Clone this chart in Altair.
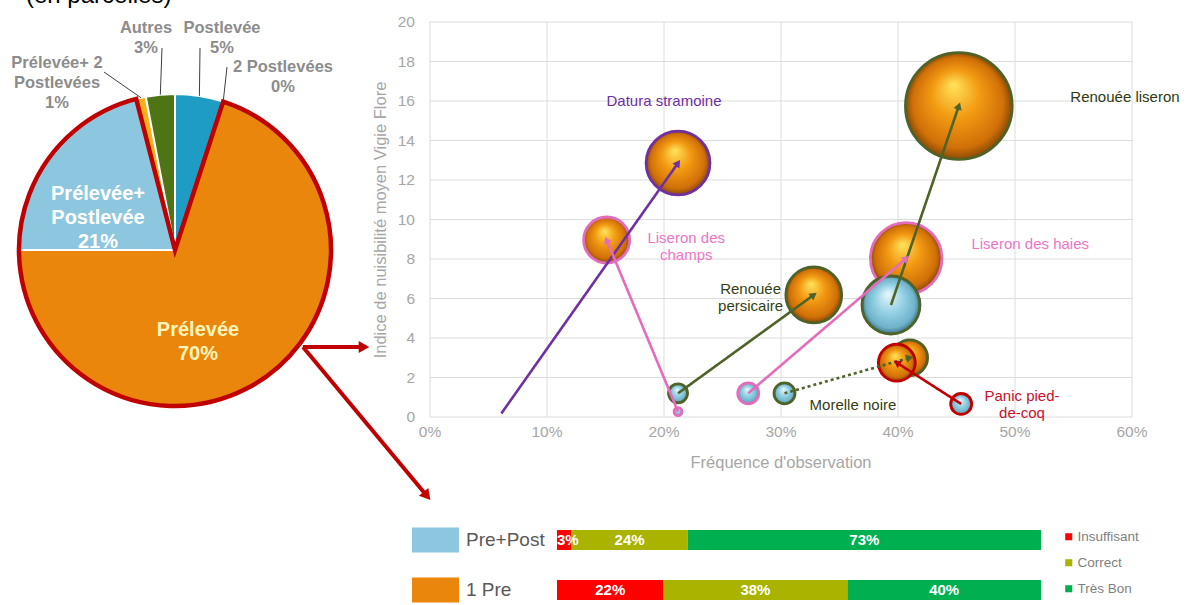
import math
import altair as alt
import pandas as pd

# ---------------- values ----------------
# Pie: share of treatment programmes (clockwise from 12 o'clock)
pie_names = ["Postlevée", "2 Postlevées", "Prélevée", "Prélevée+Postlevée",
             "Prélevée+ 2 Postlevées", "Autres"]
pie_values = [5, 0, 70, 21, 1, 3]

# Bubble chart: weeds, Pre+Post programme (start) -> 1 Pre programme (end)
species = ["Datura stramoine", "Liseron des champs", "Renouée persicaire",
           "Liseron des haies", "Renouée liseron", "Morelle noire", "Panic pied-de-coq"]
freq_prepost = [0.061, 0.212, 0.212, 0.272, 0.394, 0.303, 0.454]
nuis_prepost = [0.18, 0.27, 1.2, 1.2, 5.67, 1.2, 0.66]
size_prepost = [0.0, 0.16, 0.9, 1.1, 8.4, 1.1, 1.1]
freq_pre = [0.212, 0.151, 0.328, 0.407, 0.452, 0.410, 0.399]
nuis_pre = [12.86, 8.96, 6.18, 8.03, 15.75, 3.0, 2.75]
size_pre = [10.2, 5.3, 7.8, 12.8, 28.5, 3.2, 3.4]
freq_ticks = [0, 0.1, 0.2, 0.3, 0.4, 0.5, 0.6]
nuis_ticks = [0, 2, 4, 6, 8, 10, 12, 14, 16, 18, 20]

# Efficacy bars
groups = ["Pre+Post", "1 Pre"]
levels = ["Insuffisant", "Correct", "Très Bon"]
pct_prepost = [3, 24, 73]
pct_pre = [22, 38, 40]

# ---------------- layout & styles ----------------
W, H = 1186, 605
CX, CY, R = 175, 250, 156
FONT = "Liberation Sans"
NARROW = "Liberation Sans Narrow, Liberation Sans"
DARK_RED = "#C00000"
AXIS_GREY = "#A6A6A6"

pie_colors = ["#1F9CC4", "#1F9CC4", "#E9860B", "#8DC7DF", "#F2B21B", "#4E7416"]
pie_label_text = {
    "Postlevée": "Postlevée", "2 Postlevées": "2 Postlevées", "Autres": "Autres",
    "Prélevée+ 2 Postlevées": "Prélevée+ 2\nPostlevées",
    "Prélevée+Postlevée": "Prélevée+\nPostlevée", "Prélevée": "Prélevée",
}
pie_label_pos = {
    "Postlevée": (222, 28), "2 Postlevées": (283, 67), "Autres": (146, 28),
    "Prélevée+ 2 Postlevées": (57, 63), "Prélevée+Postlevée": (98, 194),
    "Prélevée": (198, 330),
}
outside = ["Postlevée", "2 Postlevées", "Autres", "Prélevée+ 2 Postlevées"]
leader_from = {"Postlevée": (200, 48), "Autres": (162, 48),
               "2 Postlevées": (227, 67), "Prélevée+ 2 Postlevées": (104, 72)}
red_arrows = [((303, 347), (364, 347)), ((303, 347), (427, 496))]

X0, X1, Y0, Y1 = 430, 1132, 417, 22           # bubble plot area (pixels)
PX_X = (X1 - X0) / 0.6
PX_Y = (Y0 - Y1) / 20

stroke_colors = ["#7030A0", "#E46CBC", "#4F6228", "#E46CBC", "#4F6228", "#4F6228", DARK_RED]
text_colors = ["#7030A0", "#EE74C8", "#333F14", "#EE74C8", "#2F3A12", "#333F14", "#C8102E"]
bubble_labels = {
    "Datura stramoine": ("Datura stramoine", 0.200, 16.0),
    "Liseron des champs": ("Liseron des\nchamps", 0.219, 9.06),
    "Renouée persicaire": ("Renouée\npersicaire", 0.274, 6.48),
    "Liseron des haies": ("Liseron des haies", 0.513, 8.76),
    "Renouée liseron": ("Renouée liseron", 0.594, 16.2),
    "Morelle noire": ("Morelle noire", 0.3615, 0.61),
    "Panic pied-de-coq": ("Panic pied-\nde-coq", 0.506, 1.05),
}

level_colors = ["#FF0000", "#A9B300", "#00B050"]
group_colors = ["#8DC7DF", "#E9860B"]

orange_ball = {"gradient": "radial", "x1": 0.45, "y1": 0.3, "r1": 0.0,
               "x2": 0.5, "y2": 0.5, "r2": 0.5,
               "stops": [{"offset": 0.0, "color": "#FFE45C"},
                         {"offset": 0.45, "color": "#F29A12"},
                         {"offset": 0.85, "color": "#D07008"},
                         {"offset": 1.0, "color": "#8A4A05"}]}
blue_ball = {"gradient": "radial", "x1": 0.45, "y1": 0.3, "r1": 0.0,
             "x2": 0.5, "y2": 0.5, "r2": 0.5,
             "stops": [{"offset": 0.0, "color": "#E8F7FC"},
                       {"offset": 0.5, "color": "#93D0E4"},
                       {"offset": 0.85, "color": "#6FB2C9"},
                       {"offset": 1.0, "color": "#3C7486"}]}

# ---------------- pie ----------------
pie_df = pd.DataFrame({"name": pie_names, "value": pie_values})
pie_df["end"] = pie_df["value"].cumsum()
pie_df["start"] = pie_df["end"] - pie_df["value"]
pie_df["mid"] = (pie_df["start"] + pie_df["end"]) / 2

theta_scale = alt.Scale(domain=[0, 100], range=[0, 2 * math.pi])
slices = alt.Chart(pie_df).mark_arc(outerRadius=R, stroke="white", strokeWidth=2).encode(
    x=alt.value(CX), y=alt.value(CY),
    theta=alt.Theta("start:Q", stack=None, scale=theta_scale),
    theta2="end:Q",
    fill=alt.Fill("name:N", scale=alt.Scale(domain=pie_names, range=pie_colors), legend=None),
)

i_pre = pie_names.index("Prélevée")
i_pp = pie_names.index("Prélevée+Postlevée")
outline_df = pd.DataFrame({"start": [pie_df["start"][i_pre]], "end": [pie_df["end"][i_pp]]})
outline = alt.Chart(outline_df).mark_arc(
    outerRadius=R, fillOpacity=0, stroke=DARK_RED, strokeWidth=4.5, strokeJoin="miter"
).encode(
    x=alt.value(CX), y=alt.value(CY),
    theta=alt.Theta("start:Q", stack=None, scale=theta_scale),
    theta2="end:Q",
)

rows = []
for _, r in pie_df.iterrows():
    px, py = pie_label_pos[r["name"]]
    rows.append({"name": r["name"], "txt": f"{pie_label_text[r['name']]}\n{r['value']}%",
                 "px": px, "py": py, "out": r["name"] in outside})
lab_df = pd.DataFrame(rows)
labels_out = alt.Chart(lab_df[lab_df["out"]]).mark_text(
    font=FONT, fontSize=16.5, fontWeight="bold", color="#8C8C8C", lineBreak="\n",
    lineHeight=20, baseline="middle", align="center"
).encode(x=alt.X("px:Q", scale=None), y=alt.Y("py:Q", scale=None), text="txt:N")
inside_df = lab_df[~lab_df["out"]].copy()
labels_in = alt.Chart(inside_df).mark_text(
    font=FONT, fontSize=20, fontWeight="bold", lineBreak="\n",
    lineHeight=24, baseline="middle", align="center"
).encode(
    x=alt.X("px:Q", scale=None), y=alt.Y("py:Q", scale=None), text="txt:N",
    color=alt.Color("name:N", scale=alt.Scale(domain=["Prélevée+Postlevée", "Prélevée"],
                                             range=["#FFFFFF", "#FFF4B8"]), legend=None),
)

lead_rows = []
for _, r in pie_df.iterrows():
    if r["name"] in leader_from:
        a = r["mid"] / 100 * 2 * math.pi
        ex, ey = CX + R * math.sin(a), CY - R * math.cos(a)
        fx, fy = leader_from[r["name"]]
        lead_rows.append({"x0": fx, "y0": fy, "x1": ex, "y1": ey})
leaders = alt.Chart(pd.DataFrame(lead_rows)).mark_rule(color="#404040", strokeWidth=1).encode(
    x=alt.X("x0:Q", scale=None), y=alt.Y("y0:Q", scale=None),
    x2="x1:Q", y2="y1:Q",
)

arr_rows = []
for (x0, y0), (x1, y1) in red_arrows:
    ang = math.degrees(math.atan2(x1 - x0, -(y1 - y0)))
    arr_rows.append({"x0": x0, "y0": y0, "x1": x1, "y1": y1, "ang": ang})
arr_df = pd.DataFrame(arr_rows)
arrow_lines = alt.Chart(arr_df).mark_rule(color=DARK_RED, strokeWidth=4).encode(
    x=alt.X("x0:Q", scale=None), y=alt.Y("y0:Q", scale=None), x2="x1:Q", y2="y1:Q",
)
arrow_heads = alt.Chart(arr_df).mark_point(
    shape="triangle-up", filled=True, size=150, color=DARK_RED, opacity=1
).encode(
    x=alt.X("x1:Q", scale=None), y=alt.Y("y1:Q", scale=None),
    angle=alt.Angle("ang:Q", scale=None),
)

header = alt.Chart(pd.DataFrame({"t": ["(en parcelles)"]})).mark_text(
    font=FONT, fontSize=24, color="#000000", align="left", baseline="alphabetic"
).encode(x=alt.value(26), y=alt.value(3), text="t:N")

pie_part = alt.layer(slices, outline, leaders, labels_out, labels_in,
                     arrow_lines, arrow_heads, header)

# ---------------- bubble chart ----------------
xs = alt.Scale(domain=[0, 0.6], range=[X0, X1], nice=False, zero=False)
ys = alt.Scale(domain=[0, 20], range=[Y0, Y1], nice=False, zero=False)
sizes = alt.Scale(domain=[0, 40], range=[0, 16000], zero=True)
stroke_scale = alt.Scale(domain=species, range=stroke_colors)

vgrid = alt.Chart(pd.DataFrame({"f": freq_ticks, "lo": 0, "hi": 20})).mark_rule(
    color="#DCDCDC", strokeWidth=1
).encode(x=alt.X("f:Q", scale=xs, axis=None),
         y=alt.Y("lo:Q", scale=ys, axis=None), y2="hi:Q")
hgrid = alt.Chart(pd.DataFrame({"n": nuis_ticks, "lo": 0.0, "hi": 0.6})).mark_rule(
    color="#DCDCDC", strokeWidth=1
).encode(y=alt.Y("n:Q", scale=ys, axis=None),
         x=alt.X("lo:Q", scale=xs, axis=None), x2="hi:Q")

# tick labels placed through the same scales as the bubbles
xlab_df = pd.DataFrame({"f": freq_ticks, "txt": [f"{round(v * 100)}%" for v in freq_ticks]})
xlabels = alt.Chart(xlab_df).mark_text(
    font=FONT, fontSize=15.5, color=AXIS_GREY, baseline="middle", align="center"
).encode(x=alt.X("f:Q", scale=xs, axis=None), y=alt.value(432), text="txt:N")
ylab_df = pd.DataFrame({"n": nuis_ticks, "txt": [str(v) for v in nuis_ticks]})
ylabels = alt.Chart(ylab_df).mark_text(
    font=FONT, fontSize=15.5, color=AXIS_GREY, baseline="middle", align="right"
).encode(y=alt.Y("n:Q", scale=ys, axis=None), x=alt.value(415), text="txt:N")
xtitle = alt.Chart(pd.DataFrame({"t": ["Fréquence d'observation"]})).mark_text(
    font=FONT, fontSize=16.5, color=AXIS_GREY, baseline="middle", align="center"
).encode(x=alt.value((X0 + X1) / 2), y=alt.value(463), text="t:N")
ytitle = alt.Chart(pd.DataFrame({"t": ["Indice de nuisibilité moyen Vigie Flore"]})).mark_text(
    font=FONT, fontSize=16.5, color=AXIS_GREY, baseline="middle", align="center", angle=270
).encode(x=alt.value(381), y=alt.value(220), text="t:N")

pre_df = pd.DataFrame({"sp": species, "f": freq_pre, "n": nuis_pre, "s": size_pre})
pp_df = pd.DataFrame({"sp": species, "f": freq_prepost, "n": nuis_prepost, "s": size_prepost})


def balls(df, grad):
    return alt.Chart(df).mark_point(
        shape="circle", filled=True, fill=grad, fillOpacity=1, opacity=1, strokeWidth=2.8
    ).encode(
        x=alt.X("f:Q", scale=xs, axis=None),
        y=alt.Y("n:Q", scale=ys, axis=None),
        size=alt.Size("s:Q", scale=sizes, legend=None),
        stroke=alt.Stroke("sp:N", scale=stroke_scale, legend=None),
    )


move_df = pd.DataFrame({"sp": species, "f0": freq_prepost, "n0": nuis_prepost,
                        "f1": freq_pre, "n1": nuis_pre})
move_df["style"] = ["dotted" if s == "Morelle noire" else "solid" for s in species]
move_df["ang"] = [math.degrees(math.atan2((b - a) * PX_X, (d - c) * PX_Y))
                  for a, b, c, d in zip(move_df.f0, move_df.f1, move_df.n0, move_df.n1)]

moves = alt.Chart(move_df).mark_rule(strokeWidth=2.6).encode(
    x=alt.X("f0:Q", scale=xs, axis=None), y=alt.Y("n0:Q", scale=ys, axis=None),
    x2="f1:Q", y2="n1:Q",
    stroke=alt.Stroke("sp:N", scale=stroke_scale, legend=None),
    strokeDash=alt.StrokeDash("style:N", scale=alt.Scale(domain=["solid", "dotted"],
                                                          range=[[1, 0], [3, 3]]), legend=None),
)
move_heads = alt.Chart(move_df).mark_point(
    shape="triangle-up", filled=True, size=70, opacity=1
).encode(
    x=alt.X("f1:Q", scale=xs, axis=None), y=alt.Y("n1:Q", scale=ys, axis=None),
    angle=alt.Angle("ang:Q", scale=None),
    fill=alt.Fill("sp:N", scale=stroke_scale, legend=None),
)

bl_df = pd.DataFrame([{"sp": k, "txt": v[0], "f": v[1], "n": v[2]} for k, v in bubble_labels.items()])
bubble_text = alt.Chart(bl_df).mark_text(
    font=FONT, fontSize=15, lineBreak="\n", lineHeight=17, baseline="middle", align="center"
).encode(
    x=alt.X("f:Q", scale=xs, axis=None), y=alt.Y("n:Q", scale=ys, axis=None),
    text="txt:N",
    color=alt.Color("sp:N", scale=alt.Scale(domain=species, range=text_colors), legend=None),
)

scatter_part = alt.layer(vgrid, hgrid, xlabels, ylabels, xtitle, ytitle,
                         balls(pre_df, orange_ball), balls(pp_df, blue_ball),
                         moves, move_heads, bubble_text)

# ---------------- efficacy bars ----------------
bar_rows = []
for g, vals in zip(groups, [pct_prepost, pct_pre]):
    start = 0
    for lev, v in zip(levels, vals):
        bar_rows.append({"group": g, "level": lev, "start": start, "end": start + v,
                         "mid": start + v / 2, "lab": f"{v}%", "narrow": v < 8})
        start += v
bar_df = pd.DataFrame(bar_rows)

bx = alt.Scale(domain=[0, 100], range=[557, 1041], nice=False, zero=False)
by = alt.Scale(domain=groups, range=[530, 600], paddingInner=0.6, paddingOuter=0)

bars = alt.Chart(bar_df).mark_bar().encode(
    x=alt.X("start:Q", scale=bx, axis=None), x2="end:Q",
    y=alt.Y("group:N", scale=by, axis=None),
    color=alt.Color("level:N", scale=alt.Scale(domain=levels, range=level_colors),
                    legend=alt.Legend(orient="none", legendX=1062, legendY=530, title=None,
                                      symbolType="square", symbolSize=50,
                                      symbolStrokeWidth=0, labelFont=NARROW,
                                      labelFontSize=13.5, labelColor="#7F7F7F",
                                      rowPadding=11, padding=0, labelOffset=2)),
)
bar_text = alt.Chart(bar_df[~bar_df["narrow"]]).mark_text(
    font=NARROW, fontSize=15, fontWeight="bold", color="white", baseline="middle"
).encode(
    x=alt.X("mid:Q", scale=bx, axis=None), y=alt.Y("group:N", scale=by, axis=None),
    text="lab:N",
)
bar_text_narrow = alt.Chart(bar_df[bar_df["narrow"]]).mark_text(
    font=NARROW, fontSize=15, fontWeight="bold", color="white", baseline="middle",
    align="left"
).encode(
    x=alt.X("start:Q", scale=bx, axis=None), y=alt.Y("group:N", scale=by, axis=None),
    text="lab:N",
)
grp_df = pd.DataFrame({"group": groups})
grp_boxes = alt.Chart(grp_df).mark_bar(height=25).encode(
    x=alt.value(412), x2=alt.value(459),
    y=alt.Y("group:N", scale=by, axis=None),
    fill=alt.Fill("group:N", scale=alt.Scale(domain=groups, range=group_colors), legend=None),
)
grp_text = alt.Chart(grp_df).mark_text(
    font=NARROW, fontSize=19, color="#595959", align="left", baseline="middle"
).encode(
    x=alt.value(466), y=alt.Y("group:N", scale=by, axis=None), text="group:N",
)

bar_part = alt.layer(bars, bar_text, bar_text_narrow, grp_boxes, grp_text)

chart = alt.layer(pie_part, scatter_part, bar_part).resolve_scale(
    x="independent", y="independent", color="independent", fill="independent",
    stroke="independent", size="independent",
).properties(
    width=W, height=H, autosize=alt.AutoSizeParams(type="none"), padding=0,
    background="white",
).configure_view(stroke=None)

chart.save("out.html", embed_options={"renderer": "svg", "actions": False})
